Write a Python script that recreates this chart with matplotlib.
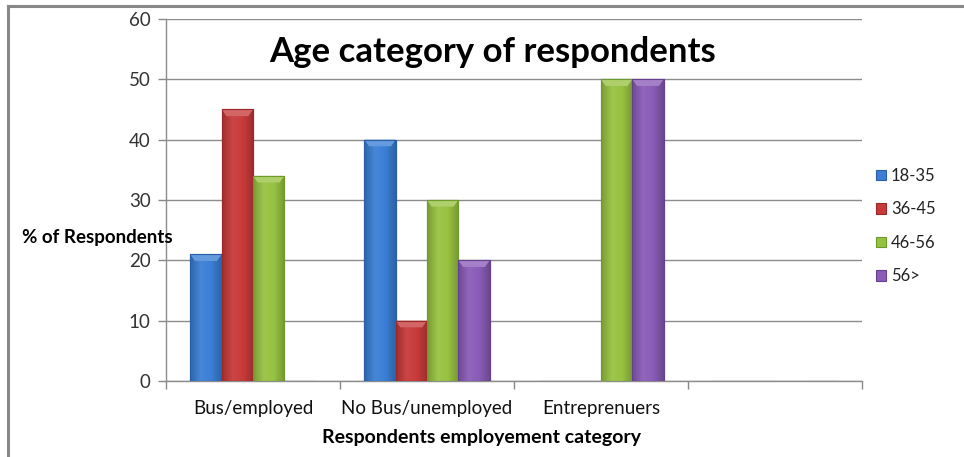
import matplotlib
matplotlib.use("Agg")
import matplotlib.pyplot as plt
import numpy as np
from matplotlib.colors import LinearSegmentedColormap, to_rgb
from matplotlib.patches import Patch, Rectangle, Polygon

categories = ["Bus/employed", "No Bus/unemployed", "Entreprenuers", ""]
series_names = ["18-35", "36-45", "46-56", "56>"]
v_18_35 = [21, 40, 0, 0]
v_36_45 = [45, 10, 0, 0]
v_46_56 = [34, 30, 50, 0]
v_56 = [0, 20, 50, 0]
series_values = [v_18_35, v_36_45, v_46_56, v_56]

base_colors = ["#3a7fd5", "#c83a3a", "#97c241", "#8a5cb8"]
edge_colors = ["#2a5fa6", "#9a2a2a", "#6d9a2c", "#64408e"]

plt.rcParams['font.family'] = ['Lato', 'DejaVu Sans']

fig = plt.figure(figsize=(9.64, 4.57), dpi=100)
ax = fig.add_axes([166/964, 1-381/457, (862-166)/964, (381-19)/457])

# outer border (top and left)
fig.add_artist(plt.Line2D([8/964, 1], [1-6/457, 1-6/457], color="#888888", lw=2.2, transform=fig.transFigure))
fig.add_artist(plt.Line2D([8/964, 8/964], [0, 1-6/457], color="#888888", lw=2.2, transform=fig.transFigure))

x = np.arange(len(categories))
width = 0.18
offsets = [-0.27, -0.09, 0.09, 0.27]

def shade(c, f):
    r = np.array(to_rgb(c))
    if f >= 0:
        return tuple(r + (1 - r) * f)
    return tuple(r * (1 + f))

for i, (vals, c, ec) in enumerate(zip(series_values, base_colors, edge_colors)):
    bars = ax.bar(x + offsets[i], vals, width, color=c, edgecolor=ec, linewidth=0.8, zorder=3)
    cmap = LinearSegmentedColormap.from_list("g", [shade(c, -0.2), shade(c, 0.06), c, shade(c, -0.22)])
    grad = np.linspace(0, 1, 64).reshape(1, -1)
    for b in bars:
        h = b.get_height()
        if h <= 0:
            continue
        x0 = b.get_x(); w = b.get_width()
        im = ax.imshow(grad, extent=[x0, x0 + w, 0, h], aspect='auto', cmap=cmap, zorder=3.5, interpolation='bicubic')
        im.set_clip_path(b)
        # top bevel
        bev = 1.1
        top = Polygon([[x0, h], [x0 + w, h], [x0 + w*0.85, h - bev], [x0 + w*0.15, h - bev]],
                      closed=True, facecolor=shade(c, 0.22), edgecolor='none', zorder=3.6)
        ax.add_patch(top)
        ax.add_patch(Rectangle((x0, 0), w, h, facecolor='none', edgecolor=ec, lw=0.8, zorder=3.7))

ax.set_xlim(-0.5, 3.5)
ax.set_ylim(0, 60)
ax.set_yticks(np.arange(0, 61, 10))
ax.set_xticks(np.arange(-0.5, 3.6, 1.0))
ax.set_xticklabels([])
ax.set_xticks(x, minor=True)
ax.set_xticklabels(categories, minor=True)
ax.tick_params(axis='x', which='minor', length=0, pad=14, labelsize=13.5, labelcolor="#111111")
ax.tick_params(axis='x', which='major', length=6, color="#888888", width=1)
ax.tick_params(axis='y', length=6, color="#888888", width=1, labelsize=13.5, labelcolor="#333333", pad=5)

ax.grid(axis='y', color="#8c8c8c", lw=1, zorder=0)
ax.set_axisbelow(True)
for s in ['top', 'right']:
    ax.spines[s].set_visible(False)
for s in ['left', 'bottom']:
    ax.spines[s].set_color("#8c8c8c")
    ax.spines[s].set_linewidth(1)

fig.text(493/964, 1-52/457, "Age category of respondents", ha='center', va='center',
         fontsize=25, fontweight='bold', color='black')
fig.text(22/964, 1-238/457, "% of Respondents", ha='left', va='center',
         fontsize=13.5, fontweight='bold', color='black', zorder=0)
fig.text(482/964, 1-438/457, "Respondents employement category", ha='center', va='center',
         fontsize=14, fontweight='bold', color='black')

handles = [Patch(facecolor=c, edgecolor=ec, lw=0.8) for c, ec in zip(base_colors, edge_colors)]
leg = fig.legend(handles, series_names, loc='center left', bbox_to_anchor=(861/964, 1-226/457),
                 frameon=False, fontsize=12, handlelength=0.6, handleheight=0.6,
                 handletextpad=0.3, labelspacing=1.05, labelcolor="#222222")

fig.savefig("out.png", dpi=100)
